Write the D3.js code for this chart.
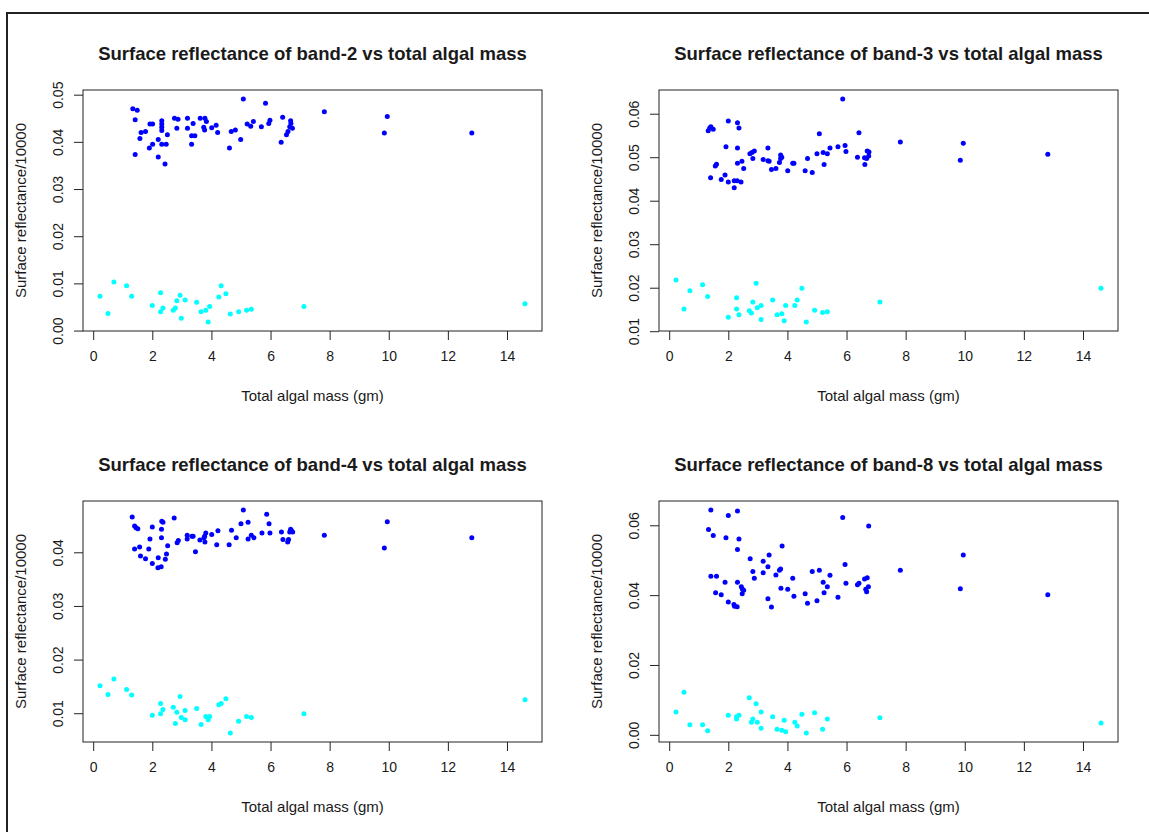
<!DOCTYPE html>
<html>
<head>
<meta charset="utf-8">
<title>Surface reflectance vs total algal mass</title>
<script src="https://cdn.jsdelivr.net/npm/d3@7"></script>
<style>
body { margin: 0; background: #fff; }
svg text { font-family: "Liberation Sans", Arial, sans-serif; fill: #1a1a1a; }
</style>
</head>
<body>
<script>
// [mass (gm), reflectance/10000]
var band2Blue = [[1.34,.0470],[1.49,.0467],[1.42,.0447],[1.42,.0373],[1.58,.0407],[1.62,.0420],[1.77,.0422],[1.90,.0387],[1.92,.0438],[2.01,.0438],[2.01,.0395],[2.20,.0405],[2.20,.0368],[2.32,.0445],[2.32,.0438],[2.32,.0431],[2.32,.0424],[2.32,.0395],[2.47,.0395],[2.43,.0353],[2.51,.0415],[2.75,.0450],[2.87,.0448],[2.83,.0429],[3.19,.0450],[3.19,.0429],[3.38,.0439],[3.33,.0413],[3.44,.0413],[3.33,.0395],[3.62,.0450],[3.78,.0450],[3.74,.0431],[3.77,.0425],[3.83,.0443],[4.01,.0430],[4.16,.0435],[4.21,.0420],[4.61,.0387],[4.67,.0422],[4.81,.0425],[4.99,.0405],[5.08,.0491],[5.21,.0438],[5.33,.0433],[5.42,.0443],[5.69,.0432],[5.83,.0482],[5.94,.0439],[5.98,.0446],[6.36,.0399],[6.41,.0452],[6.54,.0415],[6.59,.0422],[6.65,.0432],[6.68,.0445],[6.74,.0429],[6.69,.0439],[7.82,.0464],[9.85,.0419],[9.95,.0454],[12.81,.0419]];
var band2Cyan = [[0.23,.0073],[0.50,.0036],[0.70,.0103],[1.13,.0095],[1.30,.0073],[2.00,.0053],[2.28,.0080],[2.28,.0040],[2.36,.0048],[2.71,.0043],[2.78,.0048],[2.83,.0063],[2.94,.0075],[2.98,.0026],[3.11,.0065],[3.50,.0060],[3.65,.0040],[3.81,.0043],[3.89,.0018],[3.94,.0051],[4.25,.0071],[4.33,.0095],[4.49,.0078],[4.64,.0035],[4.92,.0040],[5.19,.0043],[5.35,.0045],[7.13,.0051],[14.61,.0057]];

var band3Blue = [[1.32,.0561],[1.37,.0567],[1.41,.0570],[1.49,.0564],[2.00,.0583],[2.31,.0579],[2.36,.0567],[1.92,.0524],[2.31,.0521],[1.40,.0453],[1.56,.0480],[1.60,.0484],[1.76,.0449],[1.89,.0459],[2.00,.0443],[2.20,.0446],[2.20,.0430],[2.30,.0446],[2.43,.0443],[2.31,.0486],[2.46,.0491],[2.52,.0474],[2.73,.0508],[2.80,.0511],[2.88,.0514],[2.83,.0497],[3.18,.0495],[3.34,.0492],[3.38,.0491],[3.34,.0521],[3.46,.0472],[3.61,.0474],[3.73,.0488],[3.77,.0505],[3.81,.0500],[3.77,.0497],[4.01,.0469],[4.18,.0486],[4.22,.0486],[4.60,.0469],[4.68,.0497],[4.84,.0465],[5.00,.0508],[5.08,.0554],[5.21,.0511],[5.24,.0483],[5.35,.0508],[5.44,.0521],[5.71,.0524],[5.87,.0634],[5.95,.0527],[5.98,.0513],[6.42,.0556],[6.37,.0500],[6.61,.0499],[6.62,.0483],[6.68,.0497],[6.70,.0514],[6.75,.0503],[6.76,.0512],[7.82,.0535],[9.85,.0493],[9.95,.0532],[12.81,.0507]];
var band3Cyan = [[0.23,.0218],[0.50,.0151],[0.70,.0193],[1.13,.0207],[1.30,.0180],[2.00,.0132],[2.28,.0177],[2.28,.0151],[2.36,.0138],[2.71,.0147],[2.78,.0142],[2.83,.0167],[2.94,.0210],[2.98,.0154],[3.11,.0159],[3.11,.0127],[3.50,.0172],[3.65,.0138],[3.81,.0140],[3.89,.0124],[3.94,.0159],[4.25,.0159],[4.33,.0172],[4.49,.0199],[4.64,.0121],[4.92,.0148],[5.19,.0143],[5.35,.0145],[7.13,.0167],[14.61,.0199]];

var band4Blue = [[1.32,.0466],[1.40,.0449],[1.45,.0446],[1.51,.0444],[2.00,.0447],[2.32,.0458],[2.36,.0456],[2.31,.0443],[2.31,.0427],[2.74,.0464],[1.92,.0425],[1.40,.0406],[1.57,.0410],[1.88,.0406],[1.60,.0393],[1.77,.0388],[2.00,.0379],[2.20,.0390],[2.19,.0371],[2.30,.0373],[2.44,.0387],[2.48,.0397],[2.52,.0412],[2.84,.0418],[2.88,.0422],[3.18,.0432],[3.18,.0425],[3.34,.0430],[3.38,.0430],[3.46,.0401],[3.61,.0423],[3.75,.0427],[3.81,.0436],[3.77,.0430],[3.78,.0419],[4.01,.0433],[4.18,.0414],[4.22,.0440],[4.60,.0414],[4.68,.0441],[4.84,.0427],[5.00,.0453],[5.08,.0479],[5.24,.0456],[5.24,.0425],[5.35,.0432],[5.44,.0427],[5.71,.0436],[5.87,.0471],[5.95,.0453],[5.98,.0436],[6.37,.0438],[6.42,.0424],[6.58,.0419],[6.61,.0424],[6.65,.0438],[6.68,.0443],[6.70,.0441],[6.75,.0438],[7.82,.0432],[9.85,.0408],[9.95,.0457],[12.81,.0427]];
var band4Cyan = [[0.23,.0151],[0.50,.0135],[0.70,.0164],[1.13,.0144],[1.30,.0134],[2.00,.0096],[2.28,.0118],[2.28,.0099],[2.36,.0107],[2.71,.0111],[2.78,.0081],[2.83,.0102],[2.94,.0131],[2.98,.0092],[3.11,.0105],[3.11,.0088],[3.50,.0109],[3.65,.0079],[3.81,.0094],[3.89,.0088],[3.94,.0094],[4.25,.0116],[4.33,.0118],[4.49,.0127],[4.64,.0063],[4.92,.0085],[5.19,.0094],[5.35,.0092],[7.13,.0099],[14.61,.0125]];

var band8Blue = [[1.41,.0644],[2.00,.0628],[2.31,.0641],[1.33,.0588],[1.49,.0571],[1.92,.0564],[2.36,.0561],[2.31,.0531],[2.74,.0504],[2.83,.0468],[2.88,.0448],[3.18,.0497],[3.18,.0464],[3.34,.0481],[3.38,.0515],[3.82,.0541],[3.73,.0471],[3.77,.0475],[3.61,.0458],[1.41,.0454],[1.60,.0454],[1.89,.0437],[2.31,.0437],[2.44,.0424],[2.48,.0417],[2.52,.0414],[2.47,.0404],[1.57,.0407],[1.76,.0401],[2.00,.0380],[2.19,.0373],[2.21,.0368],[2.30,.0367],[3.34,.0390],[3.46,.0366],[3.78,.0420],[4.01,.0417],[4.18,.0448],[4.22,.0397],[4.60,.0404],[4.68,.0377],[4.84,.0468],[5.00,.0384],[5.08,.0471],[5.21,.0437],[5.24,.0407],[5.35,.0424],[5.44,.0457],[5.71,.0394],[5.87,.0622],[5.95,.0488],[5.98,.0434],[6.37,.0430],[6.42,.0434],[6.61,.0446],[6.65,.0417],[6.68,.0410],[6.70,.0450],[6.74,.0424],[6.75,.0598],[7.82,.0471],[9.85,.0418],[9.95,.0515],[12.81,.0401]];
var band8Cyan = [[0.23,.0065],[0.50,.0122],[0.70,.0029],[1.13,.0029],[1.30,.0012],[2.00,.0056],[2.28,.0052],[2.28,.0045],[2.36,.0056],[2.71,.0106],[2.78,.0036],[2.83,.0045],[2.94,.0089],[2.98,.0036],[3.11,.0065],[3.11,.0019],[3.50,.0052],[3.65,.0016],[3.81,.0013],[3.89,.0042],[3.94,.0009],[4.25,.0036],[4.33,.0025],[4.49,.0059],[4.64,.0005],[4.92,.0063],[5.19,.0016],[5.35,.0045],[7.13,.0049],[14.61,.0034]];

var xTicks = [0, 2, 4, 6, 8, 10, 12, 14];
var yTicks2 = [0, 0.01, 0.02, 0.03, 0.04, 0.05];
var yTicks3 = [0.01, 0.02, 0.03, 0.04, 0.05, 0.06];
var yTicks4 = [0.01, 0.02, 0.03, 0.04];
var yTicks8 = [0, 0.02, 0.04, 0.06];

var xTitle = "Total algal mass (gm)";
var yTitle = "Surface reflectance/10000";

var W = 1149, H = 832;
var pw = 459, ph = 241; // plot box size

var svg = d3.select("body").append("svg")
  .attr("width", W)
  .attr("height", H);

// outer frame
svg.append("path")
  .attr("d", "M7," + (H + 5) + "V13H" + (W + 5))
  .attr("fill", "none")
  .attr("stroke", "#222")
  .attr("stroke-width", 2);

var panels = [
  {band: "2", blue: band2Blue, cyan: band2Cyan, yt: yTicks2, left: 83, top: 90},
  {band: "3", blue: band3Blue, cyan: band3Cyan, yt: yTicks3, left: 659, top: 90},
  {band: "4", blue: band4Blue, cyan: band4Cyan, yt: yTicks4, left: 83, top: 501},
  {band: "8", blue: band8Blue, cyan: band8Cyan, yt: yTicks8, left: 659, top: 501}
];

panels.forEach(function(p) {
  var all = p.blue.concat(p.cyan);
  var xe = d3.extent(all, function(d) { return d[0]; });
  var ye = d3.extent(all, function(d) { return d[1]; });
  // R style: range padded by 4% each side
  var xp = (xe[1] - xe[0]) * 0.04, yp = (ye[1] - ye[0]) * 0.04;
  var x = d3.scaleLinear().domain([xe[0] - xp, xe[1] + xp]).range([p.left, p.left + pw]);
  var y = d3.scaleLinear().domain([ye[0] - yp, ye[1] + yp]).range([p.top + ph, p.top]);

  var g = svg.append("g");

  // x axis
  var xa = g.append("g")
    .attr("transform", "translate(0," + (p.top + ph) + ")")
    .call(d3.axisBottom(x).tickValues(xTicks).tickSize(9).tickFormat(d3.format("d")));
  xa.select(".domain").remove();
  xa.selectAll("text").attr("y", 30).attr("dy", 0).style("font-size", "14px").attr("fill", "#1a1a1a");
  xa.selectAll("line").attr("stroke", "#222");

  // y axis, labels rotated like R default
  var ya = g.append("g")
    .attr("transform", "translate(" + p.left + ",0)")
    .call(d3.axisLeft(y).tickValues(p.yt).tickSize(9).tickFormat(d3.format(".2f")));
  ya.select(".domain").remove();
  ya.selectAll("text")
    .attr("transform", "rotate(-90)")
    .attr("x", 0).attr("y", -20).attr("dy", 0)
    .attr("text-anchor", "middle")
    .style("font-size", "14px").attr("fill", "#1a1a1a");
  ya.selectAll("line").attr("stroke", "#222");

  // box
  g.append("rect")
    .attr("x", p.left).attr("y", p.top)
    .attr("width", pw).attr("height", ph)
    .attr("fill", "none").attr("stroke", "#222").attr("stroke-width", 1);

  // points
  g.selectAll(".pb").data(p.blue).enter().append("circle")
    .attr("cx", function(d) { return x(d[0]); })
    .attr("cy", function(d) { return y(d[1]); })
    .attr("r", 2.5)
    .attr("fill", "#0000ff");
  g.selectAll(".pc").data(p.cyan).enter().append("circle")
    .attr("cx", function(d) { return x(d[0]); })
    .attr("cy", function(d) { return y(d[1]); })
    .attr("r", 2.5)
    .attr("fill", "#00ffff");

  // titles
  g.append("text")
    .attr("x", p.left + pw / 2).attr("y", p.top - 30)
    .attr("text-anchor", "middle")
    .style("font-size", "18.5px").style("font-weight", "bold")
    .text("Surface reflectance of band-" + p.band + " vs total algal mass");
  g.append("text")
    .attr("x", p.left + pw / 2).attr("y", p.top + ph + 70)
    .attr("text-anchor", "middle")
    .style("font-size", "15px")
    .text(xTitle);
  g.append("text")
    .attr("transform", "translate(" + (p.left - 57) + "," + (p.top + ph / 2) + ") rotate(-90)")
    .attr("text-anchor", "middle")
    .style("font-size", "15px")
    .text(yTitle);
});
</script>
</body>
</html>
